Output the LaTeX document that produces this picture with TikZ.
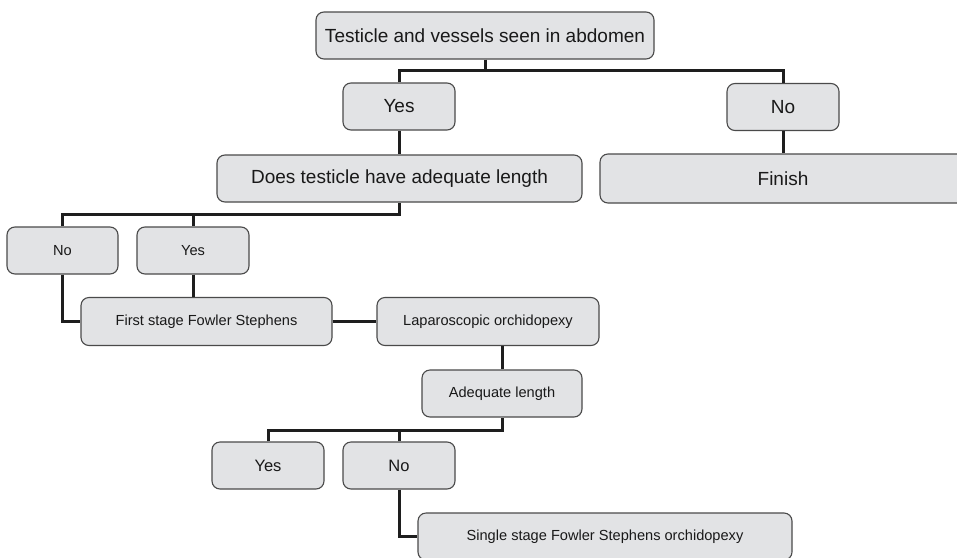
\documentclass[tikz,border=0pt]{standalone}
\usepackage{fontspec}
\setmainfont{Liberation Sans}
\definecolor{boxfill}{HTML}{E2E3E5}
\definecolor{boxdraw}{HTML}{4A4A4A}
\definecolor{conncol}{HTML}{1E1E1E}
\tikzset{
  box/.style={draw=boxdraw, fill=boxfill, line width=1.1pt, rounded corners=8pt,
              minimum height=47pt, inner sep=0pt, align=center, text=black!90},
  big/.style={font=\fontsize{19}{22}\selectfont},
  mid/.style={font=\fontsize{16.5}{19}\selectfont},
  small/.style={font=\fontsize{14.6}{17}\selectfont},
  conn/.style={draw=conncol, line width=3pt},
}
\begin{document}
\begin{tikzpicture}[x=1pt,y=-1pt]
\useasboundingbox (0,0) rectangle (957,557);
\clip (0,0) rectangle (957,557);
\fill[white] (0,0) rectangle (957,557);

\node[box,big,minimum width=338pt] (top) at (485,35.5) {Testicle and vessels seen in abdomen};
\node[box,big,minimum width=112pt] (yes1) at (399,106.5) {Yes};
\node[box,big,minimum width=112pt] (no1) at (783,107) {No};
\node[box,big,minimum width=365pt] (does) at (399.5,178.5) {Does testicle have adequate length};
\node[box,big,minimum width=366pt,minimum height=49pt] (finish) at (783,178.5) {Finish};
\node[box,small,minimum width=111pt] (no2) at (62.5,250.5) {No};
\node[box,small,minimum width=112pt] (yes2) at (193,250.5) {Yes};
\node[box,small,minimum width=251pt,minimum height=48pt] (first) at (206.5,321.5) {First stage Fowler Stephens};
\node[box,small,minimum width=222pt,minimum height=48pt] (lap) at (488,321.5) {Laparoscopic orchidopexy};
\node[box,small,minimum width=160pt] (adeq) at (502,393.5) {Adequate length};
\node[box,mid,minimum width=112pt] (yes3) at (268,465.5) {Yes};
\node[box,mid,minimum width=112pt] (no3) at (399,465.5) {No};
\node[box,small,minimum width=374pt] (single) at (605,536.5) {Single stage Fowler Stephens orchidopexy};

\coordinate (h1) at (0,70);
\coordinate (h2) at (0,214);
\coordinate (h3) at (0,430);

\draw[conn] (yes1.north) -- (yes1.north |- h1) -- (no1.north |- h1) -- (no1.north);
\draw[conn] (top.south) -- (top.south |- h1);
\draw[conn] (yes1.south) -- (yes1.south |- does.north);
\draw[conn] (no1.south) -- (no1.south |- finish.north);

\draw[conn] (no2.north) -- (no2.north |- h2) -- (does.south |- h2) -- (does.south);
\draw[conn] (yes2.north) -- (yes2.north |- h2);
\draw[conn] (no2.south) |- (first.west);
\draw[conn] (yes2.south) -- (yes2.south |- first.north);
\draw[conn] (first.east) -- (lap.west);
\draw[conn] (adeq.north) -- (adeq.north |- lap.south);

\draw[conn] (yes3.north) -- (yes3.north |- h3) -- (adeq.south |- h3) -- (adeq.south);
\draw[conn] (no3.north) -- (no3.north |- h3);
\draw[conn] (no3.south) |- (single.west);
\end{tikzpicture}
\end{document}
